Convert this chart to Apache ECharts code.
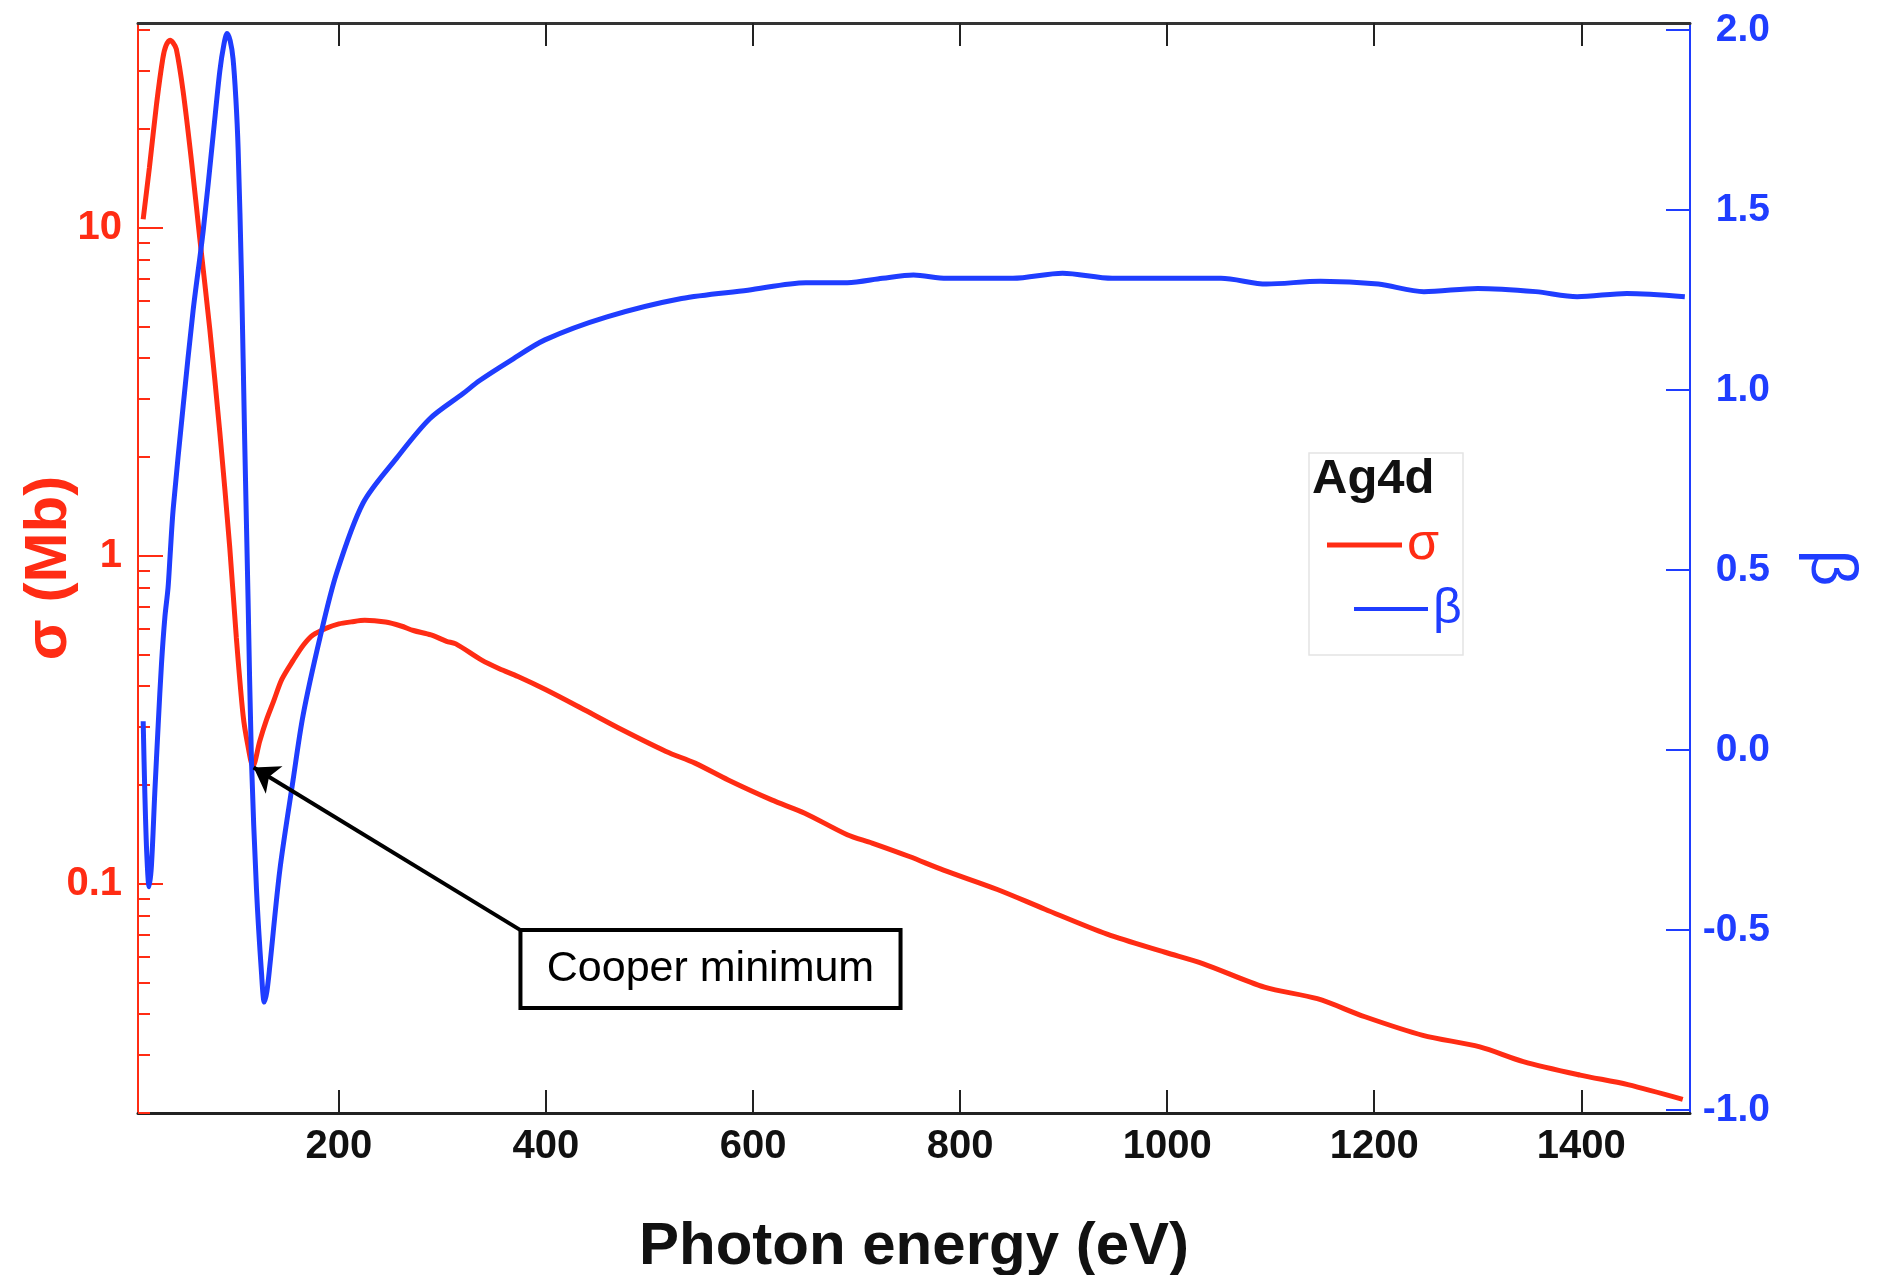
<!DOCTYPE html>
<html>
<head>
<meta charset="utf-8">
<script src="https://cdn.jsdelivr.net/npm/echarts@6/dist/echarts.min.js"></script>
<style>
  html, body { margin: 0; padding: 0; background: #fff; }
  #chart { width: 1879px; height: 1275px; }
</style>
</head>
<body>
<div id="chart"></div>
<script>
// Ag4d photoionisation: cross section (log, left) and asymmetry parameter (right)
var sigmaEnergy = [11, 17, 24, 30, 33, 37, 40, 43, 49.5, 57.7, 65.7, 75.3, 85, 94.6, 101, 107.5,
  112, 117, 123.6, 130, 137, 145, 156, 166, 175, 188, 200, 212, 225, 245, 260, 272,
  289, 304, 313, 338, 355, 373, 400, 437, 474, 516, 544, 576, 618, 650, 691, 715,
  751, 784, 836, 882, 942, 998, 1035, 1094, 1145, 1191, 1247, 1302, 1344, 1399, 1445, 1498];
var sigmaMb = [10.6, 15.2, 23.9, 32.8, 35.8, 37.2, 36.5, 35, 26.1, 15.9, 9.24, 4.91, 2.38, 1.06, 0.561, 0.326,
  0.265, 0.228, 0.272, 0.315, 0.36, 0.42, 0.48, 0.535, 0.573, 0.601, 0.619, 0.628, 0.635, 0.627, 0.61, 0.591,
  0.573, 0.548, 0.538, 0.48, 0.452, 0.428, 0.390, 0.339, 0.294, 0.253, 0.233, 0.207, 0.180, 0.164, 0.141, 0.133,
  0.121, 0.110, 0.096, 0.0836, 0.0702, 0.0618, 0.057, 0.0484, 0.0446, 0.0393, 0.0345, 0.0318, 0.0287, 0.0261, 0.0244, 0.0220];

var betaEnergy = [11, 12.6, 14.5, 16.7, 19, 22.2, 25.5, 28.7, 32, 35, 37, 40, 49.6, 59.2, 68.9, 78.5,
  85, 89, 92, 95, 97.8, 100.5, 102.7, 106, 109, 112.3, 115.6, 120.4, 125.3, 128, 130.5, 133.3,
  143, 155.8, 165.4, 181.6, 197.7, 223.4, 255.6, 287.8, 320, 336, 365, 399, 459, 531, 595, 651,
  691, 725, 755, 787, 851, 899, 947, 1052, 1096, 1148, 1204, 1248, 1300, 1356, 1396, 1444, 1500];
var betaValue = [0.08, -0.12, -0.29, -0.38, -0.32, -0.12, 0.07, 0.24, 0.37, 0.45, 0.54, 0.67, 0.955, 1.22, 1.44, 1.705,
  1.885, 1.96, 1.99, 1.97, 1.92, 1.81, 1.67, 1.31, 0.865, 0.42, -0.03, -0.385, -0.62, -0.70, -0.67, -0.60,
  -0.333, -0.083, 0.096, 0.31, 0.49, 0.686, 0.81, 0.92, 0.99, 1.026, 1.08, 1.139, 1.203, 1.254, 1.277, 1.298,
  1.298, 1.31, 1.319, 1.31, 1.31, 1.324, 1.31, 1.31, 1.294, 1.302, 1.294, 1.273, 1.282, 1.273, 1.259, 1.268, 1.259];

var energyTicks = [200, 400, 600, 800, 1000, 1200, 1400];
var sigmaMajorTicks = [0.1, 1, 10];
var sigmaMinorTicks = [0.02, 0.03, 0.04, 0.05, 0.06, 0.07, 0.08, 0.09,
  0.2, 0.3, 0.4, 0.5, 0.6, 0.7, 0.8, 0.9, 2, 3, 4, 5, 6, 7, 8, 9, 20, 30, 40];
var betaTicks = [-1, -0.5, 0, 0.5, 1, 1.5, 2];

// annotation anchors, in data units (eV, Mb)
var cooperTip = [117.7, 0.226];
var cooperBoxTopLeft = [375.4, 0.0722];
var cooperBoxBottomRight = [742.5, 0.0418];

var RED = '#ff2c14';
var BLUE = '#1f3dff';
var FONT = '"Liberation Sans", Arial, Helvetica, sans-serif';

var sigmaData = sigmaEnergy.map(function (e, i) { return [e, sigmaMb[i]]; });
var betaData = betaEnergy.map(function (e, i) { return [e, betaValue[i]]; });

var myChart = echarts.init(document.getElementById('chart'));

myChart.setOption({
  animation: false,
  backgroundColor: '#fff',
  textStyle: { fontFamily: FONT },
  grid: { left: 138, right: 189, top: 23, bottom: 162, containLabel: false, outerBoundsMode: 'none' },
  title: {
    text: 'Ag4d', left: 1312, top: 455, padding: 0,
    textStyle: { fontSize: 49, fontWeight: 'bold', color: '#111', fontFamily: FONT }
  },
  legend: [
    {
      data: ['σ'], left: 1327, top: 519, padding: 0, icon: 'rect',
      itemWidth: 75, itemHeight: 5, selectedMode: false,
      textStyle: { color: RED, fontSize: 52, fontFamily: FONT }
    },
    {
      data: ['β'], left: 1354, top: 584, padding: 0, icon: 'rect',
      itemWidth: 74, itemHeight: 4, selectedMode: false,
      textStyle: { color: BLUE, fontSize: 50, fontFamily: FONT }
    }
  ],
  graphic: [
    {
      type: 'rect', z: -1,
      shape: { x: 1309, y: 453, width: 154, height: 202 },
      style: { fill: 'none', stroke: '#e4e4e4', lineWidth: 1.5 }
    }
  ],
  xAxis: [
    {
      type: 'value', position: 'bottom', min: 6, max: 1505,
      name: 'Photon energy (eV)', nameLocation: 'middle', nameGap: 104,
      nameTextStyle: { fontSize: 60, fontWeight: 'bold', color: '#111', fontFamily: FONT },
      axisLine: { show: true, onZero: false, lineStyle: { color: '#222', width: 3 } },
      axisTick: { show: true, inside: true, length: 23, customValues: energyTicks, lineStyle: { color: '#222', width: 2 } },
      axisLabel: {
        customValues: energyTicks, margin: 14, fontSize: 40, fontWeight: 'bold', color: '#111', fontFamily: FONT,
        formatter: function (v) { return String(v); }
      },
      splitLine: { show: false }
    },
    {
      type: 'value', position: 'top', min: 6, max: 1505,
      axisLine: { show: true, onZero: false, lineStyle: { color: '#333', width: 3 } },
      axisTick: { show: true, inside: true, length: 23, customValues: energyTicks, lineStyle: { color: '#222', width: 2 } },
      axisLabel: { show: false },
      splitLine: { show: false }
    }
  ],
  yAxis: [
    {
      type: 'log', position: 'left', min: 0.02, max: 42,
      name: 'σ (Mb)', nameLocation: 'middle', nameRotate: 90, nameGap: 59, nameMoveOverlap: false,
      nameTextStyle: { fontSize: 60, fontWeight: 'bold', color: RED, fontFamily: FONT },
      axisLine: { show: true, onZero: false, lineStyle: { color: RED, width: 2 } },
      axisTick: { show: true, inside: true, length: 25, customValues: sigmaMajorTicks, lineStyle: { color: RED, width: 2 } },
      axisLabel: { customValues: sigmaMajorTicks, margin: 16, fontSize: 40, fontWeight: 'bold', color: RED, fontFamily: FONT },
      splitLine: { show: false }
    },
    {
      type: 'log', position: 'left', min: 0.02, max: 42,
      axisLine: { show: false },
      axisTick: { show: true, inside: true, length: 12, customValues: sigmaMinorTicks, lineStyle: { color: RED, width: 2 } },
      axisLabel: { show: false },
      splitLine: { show: false }
    },
    {
      type: 'value', position: 'right', min: -1.008, max: 2.019,
      name: 'β', nameLocation: 'middle', nameRotate: -90, nameGap: 108,
      nameTextStyle: { fontSize: 64, color: BLUE, fontFamily: FONT },
      axisLine: { show: true, onZero: false, lineStyle: { color: BLUE, width: 2 } },
      axisTick: { show: true, inside: true, length: 24, customValues: betaTicks, lineStyle: { color: BLUE, width: 2 } },
      axisLabel: {
        customValues: betaTicks, margin: 80, align: 'right',
        fontSize: 39, fontWeight: 'bold', color: BLUE, fontFamily: FONT,
        formatter: function (v) { return v.toFixed(1); }
      },
      splitLine: { show: false }
    }
  ],
  series: [
    {
      name: 'σ', type: 'line', xAxisIndex: 0, yAxisIndex: 0,
      data: sigmaData, showSymbol: false, symbol: 'none', smooth: 0.3,
      itemStyle: { color: RED },
      lineStyle: { color: RED, width: 5 },
      markLine: {
        silent: true, symbol: ['none', 'arrow'], symbolSize: 24,
        lineStyle: { color: '#000', width: 4, type: 'solid' },
        label: { show: false },
        data: [[{ coord: cooperBoxTopLeft }, { coord: cooperTip }]]
      },
      markArea: {
        silent: true,
        itemStyle: { color: '#fff', borderColor: '#000', borderWidth: 4 },
        label: { show: true, position: 'inside', color: '#000', fontSize: 43, fontFamily: FONT },
        data: [[{ name: 'Cooper minimum', coord: cooperBoxTopLeft }, { coord: cooperBoxBottomRight }]]
      }
    },
    {
      name: 'β', type: 'line', xAxisIndex: 0, yAxisIndex: 2,
      data: betaData, showSymbol: false, symbol: 'none', smooth: 0.3,
      itemStyle: { color: BLUE },
      lineStyle: { color: BLUE, width: 5 }
    }
  ]
});
</script>
</body>
</html>
